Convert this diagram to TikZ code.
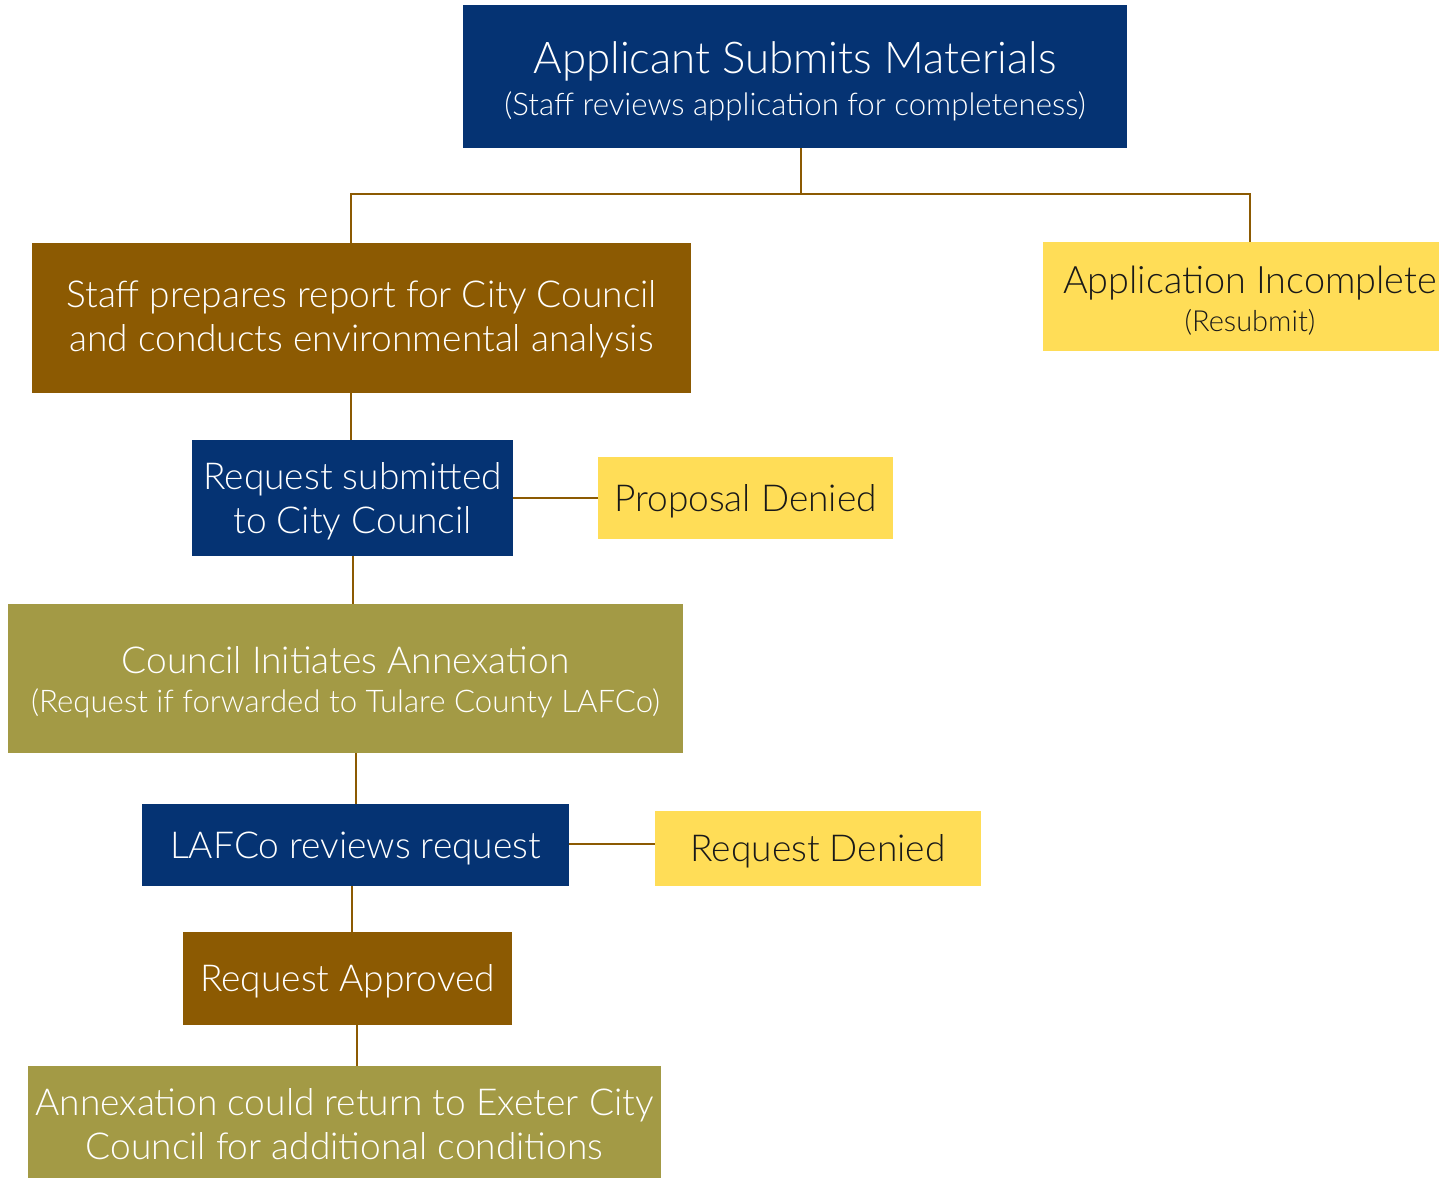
\documentclass[tikz,border=0pt]{standalone}
\usepackage{fontspec}
\setmainfont{Lato Light}
\definecolor{navy}{HTML}{053373}
\definecolor{brownbox}{HTML}{8C5A02}
\definecolor{olive}{HTML}{A39A45}
\definecolor{yel}{HTML}{FFDD57}
\definecolor{conn}{HTML}{8C5A02}
\newcommand\mfont{\fontsize{37.1}{44}\selectfont}
\newcommand\sfont{\fontsize{31.2}{38}\selectfont}
\begin{document}
\begin{tikzpicture}[x=1pt,y=-1pt,
  box/.style={rectangle, inner sep=0pt},
  txt/.style={align=center, inner sep=0pt, text=white, font=\mfont},
  ytxt/.style={txt, text=black!90},
  link/.style={draw=conn, line width=2pt}]
\useasboundingbox (0,0) rectangle (1439,1179);
\clip (0,0) rectangle (1439,1179);
% boxes
\node[box, fill=navy, minimum width=664pt, minimum height=143pt] (top) at (795,76.5) {};
\node[box, fill=brownbox, minimum width=659pt, minimum height=150pt] (staff) at (361.5,318) {};
\node[box, fill=yel, minimum width=414pt, minimum height=109pt] (inc) at (1250,296.5) {};
\node[box, fill=navy, minimum width=321pt, minimum height=116pt] (req) at (352.5,498) {};
\node[box, fill=yel, minimum width=295pt, minimum height=82pt] (pden) at (745.5,498) {};
\node[box, fill=olive, minimum width=675pt, minimum height=149pt] (council) at (345.5,678.5) {};
\node[box, fill=navy, minimum width=427pt, minimum height=82pt] (lafco) at (355.5,845) {};
\node[box, fill=yel, minimum width=326pt, minimum height=75pt] (rden) at (818,848.5) {};
\node[box, fill=brownbox, minimum width=329pt, minimum height=93pt] (appr) at (347.5,978.5) {};
\node[box, fill=olive, minimum width=633pt, minimum height=112pt] (annex) at (344.5,1122) {};
% texts
\node[txt, font=\fontsize{43.8}{42}\selectfont] (topt) at ([yshift=-5pt]top.center)
  {Applicant Submits Materials\\{\sfont (Staff reviews application for completeness)}};
\node[txt] (stafft) at ([yshift=-1pt]staff.center)
  {Staff prepares report for City Council\\and conducts environmental analysis};
\node[ytxt, font=\fontsize{37.8}{38}\selectfont] (inct) at ([yshift=-4pt]inc.center)
  {Application Incomplete\\{\fontsize{29}{30}\selectfont (Resubmit)}};
\node[txt] (reqt) at ([yshift=-3pt]req.center) {Request submitted\\to City Council};
\node[ytxt] (pdent) at ([yshift=-3pt]pden.center) {Proposal Denied};
\node[txt, font=\fontsize{37.1}{39}\selectfont] (councilt) at ([yshift=-4pt]council.center)
  {Council Initiates Annexation\\{\sfont (Request if forwarded to Tulare County LAFCo)}};
\node[txt] (lafcot) at ([yshift=-3pt]lafco.center) {LAFCo reviews request};
\node[ytxt] (rdent) at ([yshift=-3pt]rden.center) {Request Denied};
\node[txt] (apprt) at ([yshift=-3pt]appr.center) {Request Approved};
\node[txt] (annext) at ([yshift=-2.5pt]annex.center)
  {Annexation could return to Exeter City\\Council for additional conditions};
% connectors
\coordinate (split) at (801,194);
\draw[link] (top.south -| split) -- (split);
\draw[link] (staff.north -| 351,0) |- (split) -| (inc.north);
\draw[link] (staff.south -| 351,0) -- (req.north -| 351,0);
\draw[link] (req.east) -- (pden.west);
\draw[link] (req.south -| 353,0) -- (council.north -| 353,0);
\draw[link] (council.south -| 356,0) -- (lafco.north -| 356,0);
\draw[link] (lafco.east |- 0,844) -- (rden.west |- 0,844);
\draw[link] (lafco.south -| 352,0) -- (appr.north -| 352,0);
\draw[link] (appr.south -| 357,0) -- (annex.north -| 357,0);
\end{tikzpicture}
\end{document}
